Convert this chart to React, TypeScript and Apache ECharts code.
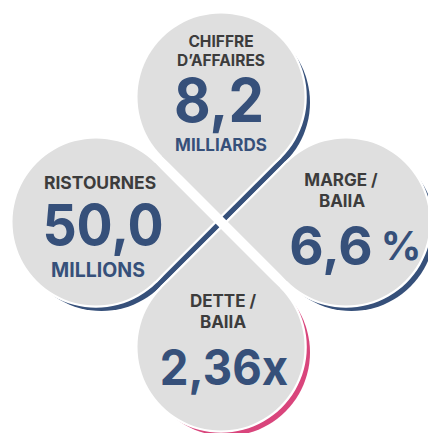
import React, { useEffect, useRef } from "react";
import * as echarts from "echarts";

// ---- data ----
const titles: string[][] = [["CHIFFRE", "D’AFFAIRES"], ["RISTOURNES"], ["MARGE /", "BAIIA"], ["DETTE /", "BAIIA"]];
const values: string[] = ["8,2", "50,0", "6,6", "2,36x"];
const units: string[] = ["MILLIARDS", "MILLIONS", "%", ""];

// ---- layout / style ----
const CX = 221;
const CY = 222;
const D = 125;
const R = 83.5;
const SHADOW = 5.5;
const GAP = 2.3;
const GRAY = "#dfdfdf";
const NAVY = "#36507a";
const PINK = "#d9457c";
const DARK = "#3c3c3c";
const FONT = "Inter, 'Open Sans', sans-serif";

// direction from cross center to petal center: top, left, right, bottom
const dirs: [number, number][] = [[0, -1], [-1, 0], [1, 0], [0, 1]];
const shadowColors = [NAVY, NAVY, NAVY, PINK];

type TextPos = {
  titleX: number[]; titleY: number[]; titleSize: number;
  valueX: number; valueY: number; valueSize: number; valueScale: number;
  unitX: number; unitY: number; unitSize: number;
};
const textPos: TextPos[] = [
  { titleX: [221, 221], titleY: [41.5, 60.5], titleSize: 15.5, valueX: 219, valueY: 100, valueSize: 60, valueScale: 0.94, unitX: 221, unitY: 145, unitSize: 17 },
  { titleX: [100], titleY: [182], titleSize: 17.5, valueX: 103, valueY: 224, valueSize: 57, valueScale: 0.94, unitX: 98, unitY: 270, unitSize: 19.5 },
  { titleX: [341, 342], titleY: [180, 201], titleSize: 17, valueX: 331, valueY: 246, valueSize: 53, valueScale: 1, unitX: 401, unitY: 245, unitSize: 40 },
  { titleX: [223, 223], titleY: [301, 322], titleSize: 17, valueX: 224, valueY: 367, valueSize: 49, valueScale: 0.93, unitX: 0, unitY: 0, unitSize: 0 },
];

function rot(u: [number, number], deg: number): [number, number] {
  const a = (deg * Math.PI) / 180;
  return [u[0] * Math.cos(a) - u[1] * Math.sin(a), u[0] * Math.sin(a) + u[1] * Math.cos(a)];
}

function petal(cx: number, cy: number, r: number, u: [number, number], color: string): any[] {
  const t1 = rot(u, 45);
  const t2 = rot(u, -45);
  const s = Math.SQRT2;
  return [
    { type: "circle", shape: { cx, cy, r }, style: { fill: color }, silent: true },
    {
      type: "polygon",
      shape: {
        points: [
          [cx, cy],
          [cx + r * t1[0], cy + r * t1[1]],
          [cx + r * s * u[0], cy + r * s * u[1]],
          [cx + r * t2[0], cy + r * t2[1]],
        ],
      },
      style: { fill: color },
      silent: true,
    },
  ];
}

function label(text: string, x: number, y: number, size: number, color: string, scaleX = 1, lh = 0.8): any {
  return {
    type: "text",
    silent: true,
    x,
    y,
    scaleX,
    style: {
      text,
      x: 0,
      y: 0,
      textAlign: "center",
      textVerticalAlign: "middle",
      fontFamily: FONT,
      fontWeight: "bold",
      fontSize: size,
      lineHeight: Math.round(size * lh),
      fill: color,
    },
  };
}

export default function App() {
  const ref = useRef<HTMLDivElement>(null);
  useEffect(() => {
    if (!ref.current) return;
    const chart = echarts.init(ref.current, null, { renderer: "svg" });
    const shadows: any[] = [];
    const whites: any[] = [];
    const grays: any[] = [];
    const texts: any[] = [];
    dirs.forEach((d, i) => {
      const pcx = CX + d[0] * D;
      const pcy = CY + d[1] * D;
      const u: [number, number] = [-d[0], -d[1]];
      shadows.push(...petal(pcx + SHADOW, pcy + SHADOW, R, u, shadowColors[i]));
      whites.push(...petal(pcx, pcy, R + GAP, u, "#ffffff"));
      grays.push(...petal(pcx, pcy, R, u, GRAY));
      const tp = textPos[i];
      titles[i].forEach((t, j) => {
        texts.push(label(t, tp.titleX[j], tp.titleY[j], tp.titleSize, DARK, 1, 0.8));
      });
      texts.push(label(values[i], tp.valueX, tp.valueY, tp.valueSize, NAVY, tp.valueScale, 0.72));
      if (units[i]) {
        texts.push(label(units[i], tp.unitX, tp.unitY, tp.unitSize, NAVY, 1, 0.8));
      }
    });
    chart.setOption({
      animation: false,
      backgroundColor: "#ffffff",
      graphic: { elements: [...shadows, ...whites, ...grays, ...texts] },
    });
    return () => chart.dispose();
  }, []);
  return <div ref={ref} style={{ position: "fixed", left: 0, top: 0, width: 428, height: 433 }} />;
}
